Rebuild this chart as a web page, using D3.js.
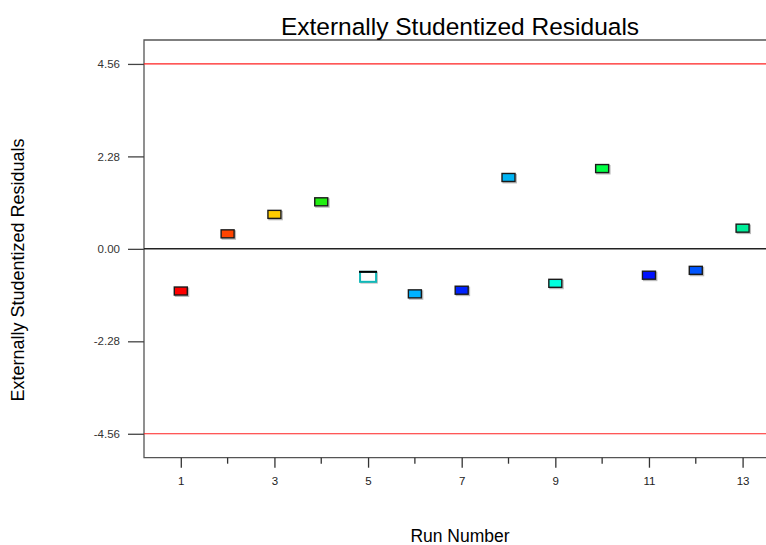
<!DOCTYPE html>
<html>
<head>
<meta charset="utf-8">
<script src="https://cdn.jsdelivr.net/npm/d3@7"></script>
<style>
  body { margin: 0; background: #fff; }
  svg { font-family: "Liberation Sans", Arial, sans-serif; }
</style>
</head>
<body>
<svg id="chart" width="766" height="545"></svg>
<script>
// data
const runs = [1, 2, 3, 4, 5, 6, 7, 8, 9, 10, 11, 12, 13];
const residuals = [-1.04, 0.37, 0.85, 1.16, -0.69, -1.11, -1.02, 1.76, -0.85, 1.98, -0.65, -0.53, 0.51];
const pointColors = ["#ff0000", "#ff4400", "#ffcc00", "#22ee11", "#ffffff", "#00b2ff", "#0022ff",
                     "#00b4f4", "#00ffdd", "#00ff44", "#0011ff", "#0055ff", "#00ee99"];
const yTicks = [4.56, 2.28, 0, -2.28, -4.56];
const limits = [4.56, -4.56];
const xMajor = [1, 3, 5, 7, 9, 11, 13];
const xMinor = [2, 4, 6, 8, 10, 12];

const svg = d3.select("#chart");
const mLeft = 144, mTop = 40, mRight = 766, mBottom = 457.7;

const x = d3.scaleLinear().domain([0.214, 13.5]).range([mLeft, mRight]);
const y = d3.scaleLinear().domain([-5.15, 5.15]).range([mBottom, mTop]);

// frame
svg.append("path")
    .attr("d", `M${mRight + 5},${mTop}H${mLeft}V${mBottom}H${mRight + 5}`)
    .attr("fill", "none")
    .attr("stroke", "#555")
    .attr("stroke-width", 1.3);

// limit lines and zero line
svg.selectAll(".limit")
    .data(limits)
    .join("line")
    .attr("x1", mLeft).attr("x2", mRight)
    .attr("y1", d => y(d)).attr("y2", d => y(d))
    .attr("stroke", "#ff2020")
    .attr("stroke-width", 1.2);

svg.append("line")
    .attr("x1", mLeft).attr("x2", mRight)
    .attr("y1", y(0)).attr("y2", y(0))
    .attr("stroke", "#222")
    .attr("stroke-width", 1.5);

// y axis
const gy = svg.append("g")
    .attr("transform", `translate(${mLeft},0)`)
    .call(d3.axisLeft(y).tickValues(yTicks).tickFormat(d => d.toFixed(2)).tickSize(16).tickPadding(8))
    .call(g => g.select(".domain").remove());
gy.selectAll("line").attr("stroke", "#444").attr("stroke-width", 1.3);
gy.selectAll("text").attr("fill", "#333").style("font-size", "11.5px");

// x axis
const gx = svg.append("g")
    .attr("transform", `translate(0,${mBottom})`)
    .call(d3.axisBottom(x).tickValues(xMajor).tickFormat(d3.format("d")).tickSize(10).tickPadding(9))
    .call(g => g.select(".domain").remove());
gx.selectAll("line").attr("stroke", "#333").attr("stroke-width", 1.3);
gx.selectAll("text").attr("fill", "#222").style("font-size", "11.5px");

svg.append("g")
    .selectAll("line")
    .data(xMinor)
    .join("line")
    .attr("x1", d => x(d)).attr("x2", d => x(d))
    .attr("y1", mBottom).attr("y2", mBottom + 6)
    .attr("stroke", "#333")
    .attr("stroke-width", 1.3);

// points
const pts = runs.map((r, i) => ({ run: r, value: residuals[i], color: pointColors[i] }));
const w = 13, h = 8;

const normal = pts.filter(d => d.run !== 5);
svg.append("g").selectAll("rect")
    .data(normal)
    .join("rect")
    .attr("x", d => x(d.run) - w / 2 + 1.2)
    .attr("y", d => y(d.value) - h / 2 + 1.2)
    .attr("width", w).attr("height", h)
    .attr("fill", "none")
    .attr("stroke", "#bbb")
    .attr("stroke-width", 1.5);
svg.append("g").selectAll("rect")
    .data(normal)
    .join("rect")
    .attr("x", d => x(d.run) - w / 2)
    .attr("y", d => y(d.value) - h / 2)
    .attr("width", w).attr("height", h)
    .attr("fill", d => d.color)
    .attr("stroke", "#1a1a1a")
    .attr("stroke-width", 1.4);

// run 5 drawn open
const p5 = pts.find(d => d.run === 5);
const w5 = 16, h5 = 10;
svg.append("rect")
    .attr("x", x(p5.run) - w5 / 2 + 1).attr("y", y(p5.value) - h5 / 2 + 1)
    .attr("width", w5).attr("height", h5)
    .attr("fill", "none").attr("stroke", "#bbb").attr("stroke-width", 1.5);
svg.append("rect")
    .attr("x", x(p5.run) - w5 / 2).attr("y", y(p5.value) - h5 / 2)
    .attr("width", w5).attr("height", h5)
    .attr("fill", "#fff").attr("stroke", "#10b8b8").attr("stroke-width", 2);
svg.append("line")
    .attr("x1", x(p5.run) - w5 / 2 - 1).attr("x2", x(p5.run) + w5 / 2 + 1)
    .attr("y1", y(p5.value) - h5 / 2).attr("y2", y(p5.value) - h5 / 2)
    .attr("stroke", "#000").attr("stroke-width", 2);

// titles
svg.append("text")
    .attr("x", 460).attr("y", 35)
    .attr("text-anchor", "middle")
    .style("font-size", "24.5px")
    .attr("fill", "#000")
    .text("Externally Studentized Residuals");

svg.append("text")
    .attr("transform", "translate(24,270) rotate(-90)")
    .attr("text-anchor", "middle")
    .style("font-size", "18px")
    .attr("fill", "#000")
    .text("Externally Studentized Residuals");

svg.append("text")
    .attr("x", 460).attr("y", 542)
    .attr("text-anchor", "middle")
    .style("font-size", "17.5px")
    .attr("fill", "#000")
    .text("Run Number");
</script>
</body>
</html>
